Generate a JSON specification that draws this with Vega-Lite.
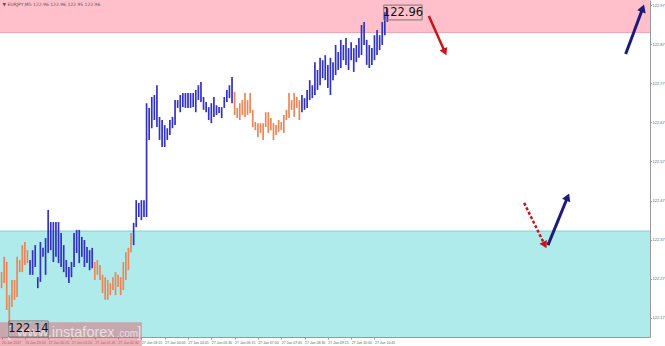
{
  "$schema": "https://vega.github.io/schema/vega-lite/v6.json",
  "width": 650,
  "height": 337,
  "autosize": {"type": "none"},
  "padding": {"left": 0, "top": 0, "right": 15, "bottom": 9},
  "background": "white",
  "config": {"view": {"stroke": null}, "font": "DejaVu Sans"},
  "datasets": {
    "bars": [
      {"t":"2017-01-26 22:45","h":122.287,"l":122.246,"w":"o"},
      {"t":"2017-01-26 22:50","h":122.326,"l":122.259,"w":"o"},
      {"t":"2017-01-26 22:55","h":122.313,"l":122.190,"w":"o"},
      {"t":"2017-01-26 23:00","h":122.228,"l":122.139,"w":"o"},
      {"t":"2017-01-26 23:05","h":122.267,"l":122.198,"w":"o"},
      {"t":"2017-01-26 23:10","h":122.267,"l":122.216,"w":"o"},
      {"t":"2017-01-26 23:15","h":122.326,"l":122.223,"w":"o"},
      {"t":"2017-01-26 23:20","h":122.318,"l":122.287,"w":"o"},
      {"t":"2017-01-26 23:25","h":122.356,"l":122.287,"w":"o"},
      {"t":"2017-01-26 23:30","h":122.364,"l":122.305,"w":"o"},
      {"t":"2017-01-26 23:35","h":122.343,"l":122.310,"w":"o"},
      {"t":"2017-01-26 23:40","h":122.318,"l":122.280,"w":"b"},
      {"t":"2017-01-26 23:45","h":122.343,"l":122.280,"w":"b"},
      {"t":"2017-01-26 23:50","h":122.356,"l":122.300,"w":"b"},
      {"t":"2017-01-26 23:55","h":122.274,"l":122.246,"w":"b"},
      {"t":"2017-01-27 00:00","h":122.364,"l":122.262,"w":"b"},
      {"t":"2017-01-27 00:05","h":122.349,"l":122.326,"w":"b"},
      {"t":"2017-01-27 00:10","h":122.374,"l":122.280,"w":"b"},
      {"t":"2017-01-27 00:15","h":122.446,"l":122.336,"w":"b"},
      {"t":"2017-01-27 00:20","h":122.415,"l":122.343,"w":"b"},
      {"t":"2017-01-27 00:25","h":122.415,"l":122.313,"w":"b"},
      {"t":"2017-01-27 00:30","h":122.415,"l":122.326,"w":"b"},
      {"t":"2017-01-27 00:35","h":122.415,"l":122.310,"w":"b"},
      {"t":"2017-01-27 00:40","h":122.387,"l":122.300,"w":"b"},
      {"t":"2017-01-27 00:45","h":122.356,"l":122.287,"w":"b"},
      {"t":"2017-01-27 00:50","h":122.318,"l":122.274,"w":"b"},
      {"t":"2017-01-27 00:55","h":122.300,"l":122.259,"w":"b"},
      {"t":"2017-01-27 01:00","h":122.313,"l":122.274,"w":"b"},
      {"t":"2017-01-27 01:05","h":122.387,"l":122.300,"w":"b"},
      {"t":"2017-01-27 01:10","h":122.395,"l":122.336,"w":"b"},
      {"t":"2017-01-27 01:15","h":122.395,"l":122.310,"w":"b"},
      {"t":"2017-01-27 01:20","h":122.377,"l":122.326,"w":"b"},
      {"t":"2017-01-27 01:25","h":122.369,"l":122.300,"w":"b"},
      {"t":"2017-01-27 01:30","h":122.351,"l":122.310,"w":"b"},
      {"t":"2017-01-27 01:35","h":122.343,"l":122.292,"w":"b"},
      {"t":"2017-01-27 01:40","h":122.349,"l":122.297,"w":"b"},
      {"t":"2017-01-27 01:45","h":122.313,"l":122.267,"w":"o"},
      {"t":"2017-01-27 01:50","h":122.318,"l":122.280,"w":"o"},
      {"t":"2017-01-27 01:55","h":122.305,"l":122.267,"w":"o"},
      {"t":"2017-01-27 02:00","h":122.280,"l":122.233,"w":"o"},
      {"t":"2017-01-27 02:05","h":122.274,"l":122.216,"w":"o"},
      {"t":"2017-01-27 02:10","h":122.267,"l":122.216,"w":"o"},
      {"t":"2017-01-27 02:15","h":122.259,"l":122.228,"w":"o"},
      {"t":"2017-01-27 02:20","h":122.274,"l":122.241,"w":"o"},
      {"t":"2017-01-27 02:25","h":122.287,"l":122.228,"w":"o"},
      {"t":"2017-01-27 02:30","h":122.280,"l":122.249,"w":"o"},
      {"t":"2017-01-27 02:35","h":122.274,"l":122.228,"w":"o"},
      {"t":"2017-01-27 02:40","h":122.313,"l":122.241,"w":"o"},
      {"t":"2017-01-27 02:45","h":122.338,"l":122.267,"w":"o"},
      {"t":"2017-01-27 02:50","h":122.349,"l":122.292,"w":"o"},
      {"t":"2017-01-27 02:55","h":122.387,"l":122.338,"w":"o"},
      {"t":"2017-01-27 03:00","h":122.413,"l":122.356,"w":"b"},
      {"t":"2017-01-27 03:05","h":122.471,"l":122.402,"w":"b"},
      {"t":"2017-01-27 03:10","h":122.464,"l":122.428,"w":"b"},
      {"t":"2017-01-27 03:15","h":122.471,"l":122.420,"w":"b"},
      {"t":"2017-01-27 03:20","h":122.471,"l":122.428,"w":"b"},
      {"t":"2017-01-27 03:25","h":122.719,"l":122.428,"w":"b"},
      {"t":"2017-01-27 03:30","h":122.707,"l":122.625,"w":"b"},
      {"t":"2017-01-27 03:35","h":122.735,"l":122.655,"w":"b"},
      {"t":"2017-01-27 03:40","h":122.740,"l":122.676,"w":"b"},
      {"t":"2017-01-27 03:45","h":122.765,"l":122.658,"w":"b"},
      {"t":"2017-01-27 03:50","h":122.684,"l":122.625,"w":"b"},
      {"t":"2017-01-27 03:55","h":122.676,"l":122.607,"w":"b"},
      {"t":"2017-01-27 04:00","h":122.663,"l":122.607,"w":"b"},
      {"t":"2017-01-27 04:05","h":122.655,"l":122.625,"w":"b"},
      {"t":"2017-01-27 04:10","h":122.676,"l":122.638,"w":"b"},
      {"t":"2017-01-27 04:15","h":122.684,"l":122.655,"w":"b"},
      {"t":"2017-01-27 04:20","h":122.727,"l":122.663,"w":"b"},
      {"t":"2017-01-27 04:25","h":122.727,"l":122.707,"w":"b"},
      {"t":"2017-01-27 04:30","h":122.740,"l":122.696,"w":"b"},
      {"t":"2017-01-27 04:35","h":122.745,"l":122.709,"w":"b"},
      {"t":"2017-01-27 04:40","h":122.745,"l":122.707,"w":"b"},
      {"t":"2017-01-27 04:45","h":122.745,"l":122.707,"w":"b"},
      {"t":"2017-01-27 04:50","h":122.745,"l":122.707,"w":"b"},
      {"t":"2017-01-27 04:55","h":122.745,"l":122.709,"w":"b"},
      {"t":"2017-01-27 05:00","h":122.753,"l":122.696,"w":"b"},
      {"t":"2017-01-27 05:05","h":122.765,"l":122.727,"w":"b"},
      {"t":"2017-01-27 05:10","h":122.773,"l":122.722,"w":"b"},
      {"t":"2017-01-27 05:15","h":122.735,"l":122.702,"w":"b"},
      {"t":"2017-01-27 05:20","h":122.722,"l":122.696,"w":"b"},
      {"t":"2017-01-27 05:25","h":122.709,"l":122.676,"w":"b"},
      {"t":"2017-01-27 05:30","h":122.719,"l":122.668,"w":"b"},
      {"t":"2017-01-27 05:35","h":122.735,"l":122.684,"w":"b"},
      {"t":"2017-01-27 05:40","h":122.714,"l":122.689,"w":"b"},
      {"t":"2017-01-27 05:45","h":122.709,"l":122.694,"w":"b"},
      {"t":"2017-01-27 05:50","h":122.709,"l":122.681,"w":"b"},
      {"t":"2017-01-27 05:55","h":122.735,"l":122.707,"w":"b"},
      {"t":"2017-01-27 06:00","h":122.753,"l":122.722,"w":"b"},
      {"t":"2017-01-27 06:05","h":122.765,"l":122.732,"w":"b"},
      {"t":"2017-01-27 06:10","h":122.786,"l":122.719,"w":"b"},
      {"t":"2017-01-27 06:15","h":122.748,"l":122.689,"w":"o"},
      {"t":"2017-01-27 06:20","h":122.707,"l":122.681,"w":"o"},
      {"t":"2017-01-27 06:25","h":122.719,"l":122.676,"w":"o"},
      {"t":"2017-01-27 06:30","h":122.727,"l":122.689,"w":"o"},
      {"t":"2017-01-27 06:35","h":122.745,"l":122.684,"w":"o"},
      {"t":"2017-01-27 06:40","h":122.727,"l":122.689,"w":"o"},
      {"t":"2017-01-27 06:45","h":122.745,"l":122.694,"w":"o"},
      {"t":"2017-01-27 06:50","h":122.702,"l":122.658,"w":"o"},
      {"t":"2017-01-27 06:55","h":122.671,"l":122.650,"w":"o"},
      {"t":"2017-01-27 07:00","h":122.668,"l":122.632,"w":"o"},
      {"t":"2017-01-27 07:05","h":122.668,"l":122.643,"w":"o"},
      {"t":"2017-01-27 07:10","h":122.668,"l":122.625,"w":"o"},
      {"t":"2017-01-27 07:15","h":122.696,"l":122.658,"w":"o"},
      {"t":"2017-01-27 07:20","h":122.696,"l":122.643,"w":"o"},
      {"t":"2017-01-27 07:25","h":122.681,"l":122.650,"w":"o"},
      {"t":"2017-01-27 07:30","h":122.668,"l":122.625,"w":"o"},
      {"t":"2017-01-27 07:35","h":122.663,"l":122.638,"w":"o"},
      {"t":"2017-01-27 07:40","h":122.676,"l":122.645,"w":"o"},
      {"t":"2017-01-27 07:45","h":122.671,"l":122.650,"w":"o"},
      {"t":"2017-01-27 07:50","h":122.689,"l":122.643,"w":"o"},
      {"t":"2017-01-27 07:55","h":122.702,"l":122.676,"w":"o"},
      {"t":"2017-01-27 08:00","h":122.745,"l":122.681,"w":"o"},
      {"t":"2017-01-27 08:05","h":122.727,"l":122.702,"w":"o"},
      {"t":"2017-01-27 08:10","h":122.745,"l":122.684,"w":"o"},
      {"t":"2017-01-27 08:15","h":122.735,"l":122.707,"w":"o"},
      {"t":"2017-01-27 08:20","h":122.727,"l":122.676,"w":"o"},
      {"t":"2017-01-27 08:25","h":122.740,"l":122.696,"w":"b"},
      {"t":"2017-01-27 08:30","h":122.732,"l":122.702,"w":"b"},
      {"t":"2017-01-27 08:35","h":122.753,"l":122.707,"w":"b"},
      {"t":"2017-01-27 08:40","h":122.778,"l":122.727,"w":"b"},
      {"t":"2017-01-27 08:45","h":122.765,"l":122.732,"w":"b"},
      {"t":"2017-01-27 08:50","h":122.824,"l":122.740,"w":"b"},
      {"t":"2017-01-27 08:55","h":122.804,"l":122.753,"w":"b"},
      {"t":"2017-01-27 09:00","h":122.835,"l":122.765,"w":"b"},
      {"t":"2017-01-27 09:05","h":122.829,"l":122.783,"w":"b"},
      {"t":"2017-01-27 09:10","h":122.842,"l":122.778,"w":"b"},
      {"t":"2017-01-27 09:15","h":122.817,"l":122.758,"w":"b"},
      {"t":"2017-01-27 09:20","h":122.835,"l":122.740,"w":"b"},
      {"t":"2017-01-27 09:25","h":122.824,"l":122.778,"w":"b"},
      {"t":"2017-01-27 09:30","h":122.868,"l":122.791,"w":"b"},
      {"t":"2017-01-27 09:35","h":122.850,"l":122.804,"w":"b"},
      {"t":"2017-01-27 09:40","h":122.881,"l":122.809,"w":"b"},
      {"t":"2017-01-27 09:45","h":122.868,"l":122.829,"w":"b"},
      {"t":"2017-01-27 09:50","h":122.886,"l":122.817,"w":"b"},
      {"t":"2017-01-27 09:55","h":122.860,"l":122.804,"w":"b"},
      {"t":"2017-01-27 10:00","h":122.875,"l":122.829,"w":"b"},
      {"t":"2017-01-27 10:05","h":122.860,"l":122.799,"w":"b"},
      {"t":"2017-01-27 10:10","h":122.868,"l":122.824,"w":"b"},
      {"t":"2017-01-27 10:15","h":122.886,"l":122.835,"w":"b"},
      {"t":"2017-01-27 10:20","h":122.919,"l":122.842,"w":"b"},
      {"t":"2017-01-27 10:25","h":122.927,"l":122.868,"w":"b"},
      {"t":"2017-01-27 10:30","h":122.881,"l":122.817,"w":"b"},
      {"t":"2017-01-27 10:35","h":122.868,"l":122.809,"w":"b"},
      {"t":"2017-01-27 10:40","h":122.860,"l":122.817,"w":"b"},
      {"t":"2017-01-27 10:45","h":122.893,"l":122.829,"w":"b"},
      {"t":"2017-01-27 10:50","h":122.906,"l":122.842,"w":"b"},
      {"t":"2017-01-27 10:55","h":122.893,"l":122.855,"w":"b"},
      {"t":"2017-01-27 11:00","h":122.927,"l":122.868,"w":"b"},
      {"t":"2017-01-27 11:05","h":122.952,"l":122.893,"w":"b"},
      {"t":"2017-01-27 11:10","h":122.962,"l":122.927,"w":"b"}
    ],
    "zones": [
      {"zone":"sell","top":122.983,"bot":122.900,"edge":122.900},
      {"zone":"buy","top":122.392,"bot":122.121,"edge":122.392}
    ],
    "arrows": [
      {"a":"r1","k":0,"t":"2017-01-27 12:30","p":122.942},
      {"a":"r1","k":1,"t":"2017-01-27 13:01","p":122.850},
      {"a":"b1","k":0,"t":"2017-01-27 18:50","p":122.845},
      {"a":"b1","k":1,"t":"2017-01-27 19:23","p":122.962},
      {"a":"r2","k":0,"t":"2017-01-27 15:34","p":122.464},
      {"a":"r2","k":1,"t":"2017-01-27 16:14","p":122.356},
      {"a":"b2","k":0,"t":"2017-01-27 16:20","p":122.356},
      {"a":"b2","k":1,"t":"2017-01-27 16:58","p":122.479}
    ],
    "boxes": [
      {"label":"122.96","t":"2017-01-27 11:03","t2":"2017-01-27 12:17","p1":122.970,"p2":122.932,"tc":"2017-01-27 11:40","pc":122.951},
      {"label":"122.14","t":"2017-01-26 22:59","t2":"2017-01-27 00:15","p1":122.162,"p2":122.121,"tc":"2017-01-26 23:37","pc":122.142}
    ],
    "mark": [
      {"t":"2017-01-26 22:42","t2":"2017-01-27 03:16","p1":122.159,"p2":122.098}
    ],
    "texts": [
      {"s":"[","t":"2017-01-26 22:56","p":122.131,"g":"big"},
      {"s":"www.instaforex","t":"2017-01-26 23:15","p":122.131,"g":"big"},
      {"s":".com","t":"2017-01-27 02:27","p":122.128,"g":"small"},
      {"s":"]","t":"2017-01-27 03:07","p":122.131,"g":"big"}
    ],
    "title": [
      {"s":"▼ EURJPY,M5  122.96 122.96 122.95 122.96","t":"2017-01-26 22:47","p":122.971}
    ]
  },
  "layer": [
    {
      "data": {"name": "zones"},
      "mark": {"type": "rect"},
      "encoding": {
        "y": {"field": "top", "type": "quantitative", "title": null,
              "scale": {"domain": [122.121, 122.983], "nice": false, "zero": false},
              "axis": {"orient": "right", "values": [122.17,122.22,122.27,122.32,122.37,122.42,122.47,122.52,122.57,122.62,122.67,122.72,122.77,122.82,122.87,122.92,122.97],
                       "format": ".2f", "labelFont": "Liberation Sans", "labelFontSize": 4, "labelColor": "#666", "tickSize": 1.5, "tickColor": "#999", "labelPadding": 0.5, "domainColor": "#999", "grid": false, "labelOverlap": false, "labelLimit": 20}},
        "y2": {"field": "bot"},
        "fill": {"field": "zone", "type": "nominal", "legend": null,
                 "scale": {"domain": ["sell", "buy"], "range": ["#ffc0cb", "#b0ebec"]}}
      }
    },
    {
      "data": {"name": "zones"},
      "transform": [{"filter": "datum.zone == 'sell'"}],
      "mark": {"type": "rule", "color": "#f0a2b2", "strokeWidth": 1},
      "encoding": {"y": {"field": "edge", "type": "quantitative", "title": null}}
    },
    {
      "data": {"name": "zones"},
      "transform": [{"filter": "datum.zone == 'buy'"}],
      "mark": {"type": "rule", "color": "#86cfd3", "strokeWidth": 1},
      "encoding": {"y": {"field": "edge", "type": "quantitative", "title": null}}
    },
    {
      "data": {"name": "bars"},
      "mark": {"type": "rule", "strokeWidth": 1.7},
      "encoding": {
        "x": {"field": "t", "type": "temporal", "title": null,
              "scale": {"domain": [{"year":2017,"month":"Jan","date":26,"hours":22,"minutes":42},{"year":2017,"month":"Jan","date":27,"hours":19,"minutes":37}]},
              "axis": {"values": [
                {"year":2017,"month":"Jan","date":26,"hours":22,"minutes":45},
                {"year":2017,"month":"Jan","date":26,"hours":23,"minutes":30},
                {"year":2017,"month":"Jan","date":27,"hours":0,"minutes":15},
                {"year":2017,"month":"Jan","date":27,"hours":1,"minutes":0},
                {"year":2017,"month":"Jan","date":27,"hours":1,"minutes":45},
                {"year":2017,"month":"Jan","date":27,"hours":2,"minutes":30},
                {"year":2017,"month":"Jan","date":27,"hours":3,"minutes":15},
                {"year":2017,"month":"Jan","date":27,"hours":4,"minutes":0},
                {"year":2017,"month":"Jan","date":27,"hours":4,"minutes":45},
                {"year":2017,"month":"Jan","date":27,"hours":5,"minutes":30},
                {"year":2017,"month":"Jan","date":27,"hours":6,"minutes":15},
                {"year":2017,"month":"Jan","date":27,"hours":7,"minutes":0},
                {"year":2017,"month":"Jan","date":27,"hours":7,"minutes":45},
                {"year":2017,"month":"Jan","date":27,"hours":8,"minutes":30},
                {"year":2017,"month":"Jan","date":27,"hours":9,"minutes":15},
                {"year":2017,"month":"Jan","date":27,"hours":10,"minutes":0},
                {"year":2017,"month":"Jan","date":27,"hours":10,"minutes":45}],
                "format": "%d %b %H:%M",
                "labelExpr": "datum.value < datetime(2017,0,26,23,0) ? '26 Jan 2017' : datum.label",
                "labelAlign": "left", "labelFont": "Liberation Sans", "labelFontSize": 3.5, "labelColor": "#666", "tickSize": 2, "tickColor": "#999",
                "labelPadding": 1.5, "domainColor": "#999", "grid": false, "labelOverlap": false, "labelFlush": false}},
        "y": {"field": "l", "type": "quantitative", "title": null},
        "y2": {"field": "h"},
        "stroke": {"field": "w", "type": "nominal", "legend": null,
                   "scale": {"domain": ["b", "o"], "range": ["#3232c4", "#ec8658"]}}
      }
    },
    {
      "data": {"name": "arrows"},
      "transform": [{"filter": "datum.a == 'r1'"}],
      "mark": {"type": "line", "color": "#c4161c", "strokeWidth": 2.5},
      "encoding": {"x": {"field": "t", "type": "temporal", "title": null}, "y": {"field": "p", "type": "quantitative", "title": null}, "order": {"field": "k"}}
    },
    {
      "data": {"name": "arrows"},
      "transform": [{"filter": "datum.a == 'r2'"}],
      "mark": {"type": "line", "color": "#c4161c", "strokeWidth": 2.5, "strokeDash": [3, 2]},
      "encoding": {"x": {"field": "t", "type": "temporal", "title": null}, "y": {"field": "p", "type": "quantitative", "title": null}, "order": {"field": "k"}}
    },
    {
      "data": {"name": "arrows"},
      "transform": [{"filter": "datum.a == 'b1' || datum.a == 'b2'"}],
      "mark": {"type": "line", "color": "#1c1c78", "strokeWidth": 3},
      "encoding": {"x": {"field": "t", "type": "temporal", "title": null}, "y": {"field": "p", "type": "quantitative", "title": null}, "detail": {"field": "a"}, "order": {"field": "k"}}
    },
    {
      "data": {"name": "arrows"},
      "transform": [{"filter": "datum.a == 'r1' && datum.k == 1"}],
      "mark": {"type": "point", "shape": "triangle-up", "filled": true, "color": "#c4161c", "size": 70, "angle": 156, "opacity": 1},
      "encoding": {"x": {"field": "t", "type": "temporal", "title": null}, "y": {"field": "p", "type": "quantitative", "title": null}}
    },
    {
      "data": {"name": "arrows"},
      "transform": [{"filter": "datum.a == 'r2' && datum.k == 1"}],
      "mark": {"type": "point", "shape": "triangle-up", "filled": true, "color": "#c4161c", "size": 70, "angle": 153, "opacity": 1},
      "encoding": {"x": {"field": "t", "type": "temporal", "title": null}, "y": {"field": "p", "type": "quantitative", "title": null}}
    },
    {
      "data": {"name": "arrows"},
      "transform": [{"filter": "datum.a == 'b1' && datum.k == 1"}],
      "mark": {"type": "point", "shape": "triangle-up", "filled": true, "color": "#1c1c78", "size": 80, "angle": 20, "opacity": 1},
      "encoding": {"x": {"field": "t", "type": "temporal", "title": null}, "y": {"field": "p", "type": "quantitative", "title": null}}
    },
    {
      "data": {"name": "arrows"},
      "transform": [{"filter": "datum.a == 'b2' && datum.k == 1"}],
      "mark": {"type": "point", "shape": "triangle-up", "filled": true, "color": "#1c1c78", "size": 80, "angle": 23, "opacity": 1},
      "encoding": {"x": {"field": "t", "type": "temporal", "title": null}, "y": {"field": "p", "type": "quantitative", "title": null}}
    },
    {
      "data": {"name": "mark"},
      "mark": {"type": "rect", "fill": "#dc6470", "opacity": 0.5},
      "encoding": {"x": {"field": "t", "type": "temporal", "title": null}, "x2": {"field": "t2"}, "y": {"field": "p1", "type": "quantitative", "title": null}, "y2": {"field": "p2"}}
    },
    {
      "data": {"name": "texts"},
      "transform": [{"filter": "datum.g == 'big'"}],
      "mark": {"type": "text", "align": "left", "baseline": "middle", "fontSize": 14.5, "font": "Liberation Sans", "color": "#f2f2f2", "opacity": 0.75},
      "encoding": {"x": {"field": "t", "type": "temporal", "title": null}, "y": {"field": "p", "type": "quantitative", "title": null}, "text": {"field": "s"}}
    },
    {
      "data": {"name": "texts"},
      "transform": [{"filter": "datum.g == 'small'"}],
      "mark": {"type": "text", "align": "left", "baseline": "middle", "fontSize": 10, "font": "Liberation Sans", "color": "#f2f2f2", "opacity": 0.75},
      "encoding": {"x": {"field": "t", "type": "temporal", "title": null}, "y": {"field": "p", "type": "quantitative", "title": null}, "text": {"field": "s"}}
    },
    {
      "data": {"name": "boxes"},
      "mark": {"type": "rect", "fill": null, "stroke": "#777", "strokeWidth": 1},
      "encoding": {"x": {"field": "t", "type": "temporal", "title": null}, "x2": {"field": "t2"}, "y": {"field": "p1", "type": "quantitative", "title": null}, "y2": {"field": "p2"}}
    },
    {
      "data": {"name": "boxes"},
      "mark": {"type": "text", "align": "center", "baseline": "middle", "fontSize": 11.5, "color": "#111"},
      "encoding": {"x": {"field": "tc", "type": "temporal", "title": null}, "y": {"field": "pc", "type": "quantitative", "title": null}, "text": {"field": "label"}}
    },
    {
      "data": {"name": "title"},
      "mark": {"type": "text", "align": "left", "baseline": "middle", "fontSize": 4.5, "color": "#555"},
      "encoding": {"x": {"field": "t", "type": "temporal", "title": null}, "y": {"field": "p", "type": "quantitative", "title": null}, "text": {"field": "s"}}
    }
  ]
}
